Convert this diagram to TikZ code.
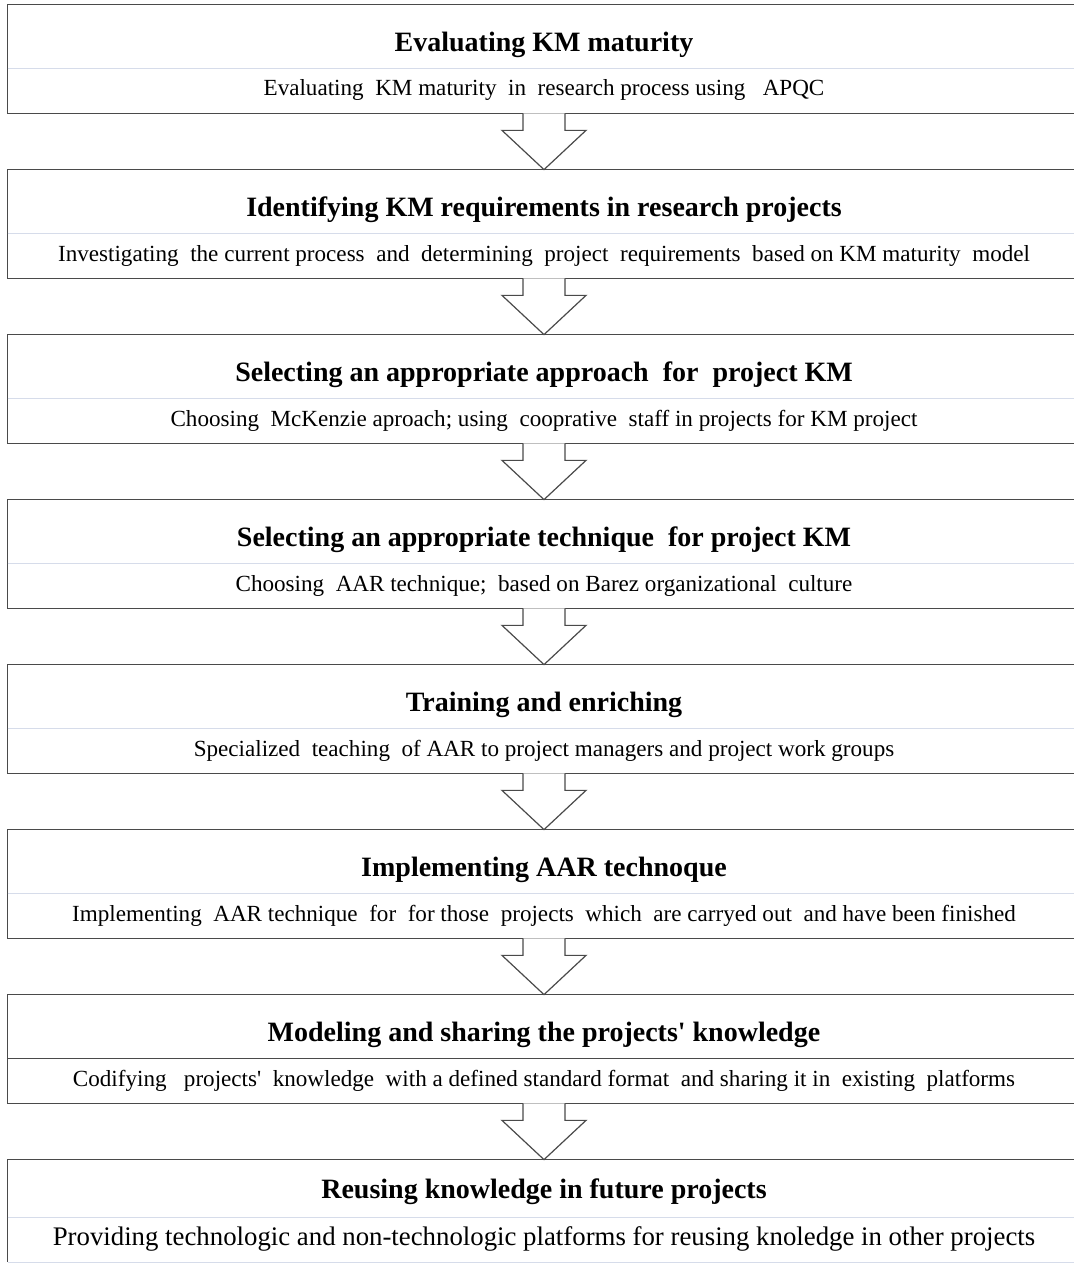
\documentclass[tikz,border=0pt]{standalone}
\usepackage{fontspec}
\setmainfont{Liberation Serif}
\usetikzlibrary{calc}
\definecolor{edgegray}{HTML}{4A4A4A}
\definecolor{divblue}{HTML}{D6DCEA}
\tikzset{every picture/.style={line width=0.75pt}}
\tikzset{
  steptitle/.style={minimum width=1072, minimum height=63, inner sep=0pt,
    text height=30, text depth=0, font=\fontsize{28}{32}\selectfont\bfseries},
  stepsub/.style={minimum width=1072, minimum height=45, inner sep=0pt,
    text height=16, text depth=5, font=\fontsize{23.1}{27}\selectfont},
  boxedge/.style={draw=edgegray, line width=1.6pt},
  boxdiv/.style={draw=divblue, line width=1.3pt},
  blockarrow/.style={draw=edgegray, fill=white, line width=1.2pt, line join=miter},
}

\begin{document}
\begin{tikzpicture}[x=1pt,y=1pt,yscale=-1,xscale=1]
\path[use as bounding box] (0,0) rectangle (1073,1268);

% Text Node
\node[steptitle] (t1) at (544,36.5) {Evaluating KM maturity};
\node[stepsub] (s1) at (544,90.5) {Evaluating\ \ KM maturity\ \ in\ \ research process using\ \ \ APQC};
% Text Node
\node[steptitle] (t2) at (544,201.5) {Identifying KM requirements in research projects};
\node[stepsub] (s2) at (544,255.5) {Investigating\ \ the current process\ \ and\ \ determining\ \ project\ \ requirements\ \ based on KM maturity\ \ model};
% Text Node
\node[steptitle] (t3) at (544,366.5) {Selecting an appropriate approach\ \ for\ \ project KM};
\node[stepsub] (s3) at (544,420.5) {Choosing\ \ McKenzie aproach; using\ \ cooprative\ \ staff in projects for KM project};
% Text Node
\node[steptitle] (t4) at (544,531.5) {Selecting an appropriate technique\ \ for project KM};
\node[stepsub] (s4) at (544,585.5) {Choosing\ \ AAR technique;\ \ based on Barez organizational\ \ culture};
% Text Node
\node[steptitle] (t5) at (544,696.5) {Training and enriching};
\node[stepsub] (s5) at (544,750.5) {Specialized\ \ teaching\ \ of AAR to project managers and project work groups};
% Text Node
\node[steptitle] (t6) at (544,861.5) {Implementing AAR technoque};
\node[stepsub] (s6) at (544,915.5) {Implementing\ \ AAR technique\ \ for\ \ for those\ \ projects\ \ which\ \ are carryed out\ \ and have been finished};
% Text Node
\node[steptitle] (t7) at (544,1026.5) {Modeling and sharing the projects\textquotesingle\ knowledge};
\node[stepsub] (s7) at (544,1080.5) {Codifying\ \ \ projects\textquotesingle\ \ knowledge\ \ with a defined standard format\ \ and sharing it in\ \ existing\ \ platforms};
% Text Node
\node[steptitle, minimum height=57, text height=20] (t8) at (544,1188.5) {Reusing knowledge in future projects};
\node[stepsub, font=\fontsize{26.8}{31}\selectfont] (s8) at (544,1239.5) {Providing technologic and non-technologic platforms for reusing knoledge in other projects};

% Box outlines
\draw[boxedge] (t1.north east) -- (t1.north west) -- (s1.south west) -- (s1.south east);
\draw[boxdiv] (t1.south west) -- (t1.south east);
\draw[boxedge] (t2.north east) -- (t2.north west) -- (s2.south west) -- (s2.south east);
\draw[boxdiv] (t2.south west) -- (t2.south east);
\draw[boxedge] (t3.north east) -- (t3.north west) -- (s3.south west) -- (s3.south east);
\draw[boxdiv] (t3.south west) -- (t3.south east);
\draw[boxedge] (t4.north east) -- (t4.north west) -- (s4.south west) -- (s4.south east);
\draw[boxdiv] (t4.south west) -- (t4.south east);
\draw[boxedge] (t5.north east) -- (t5.north west) -- (s5.south west) -- (s5.south east);
\draw[boxdiv] (t5.south west) -- (t5.south east);
\draw[boxedge] (t6.north east) -- (t6.north west) -- (s6.south west) -- (s6.south east);
\draw[boxdiv] (t6.south west) -- (t6.south east);
\draw[boxedge] (t7.north east) -- (t7.north west) -- (s7.south west) -- (s7.south east);
\draw[boxedge] (t7.south west) -- (t7.south east);
\draw[boxedge] (t8.north east) -- (t8.north west) -- (s8.south west);
\draw[boxdiv] (t8.south west) -- (t8.south east);
\draw[boxdiv] (s8.south west) -- (s8.south east);

% Connection
\draw[blockarrow] ($(s1.south)+(-21,0)$) -- ++(0,17) -- ++(-21,0) -- (t2.north) -- ($(s1.south)+(42,17)$) -- ++(-21,0) -- ++(0,-17);
% Connection
\draw[blockarrow] ($(s2.south)+(-21,0)$) -- ++(0,17) -- ++(-21,0) -- (t3.north) -- ($(s2.south)+(42,17)$) -- ++(-21,0) -- ++(0,-17);
% Connection
\draw[blockarrow] ($(s3.south)+(-21,0)$) -- ++(0,17) -- ++(-21,0) -- (t4.north) -- ($(s3.south)+(42,17)$) -- ++(-21,0) -- ++(0,-17);
% Connection
\draw[blockarrow] ($(s4.south)+(-21,0)$) -- ++(0,17) -- ++(-21,0) -- (t5.north) -- ($(s4.south)+(42,17)$) -- ++(-21,0) -- ++(0,-17);
% Connection
\draw[blockarrow] ($(s5.south)+(-21,0)$) -- ++(0,17) -- ++(-21,0) -- (t6.north) -- ($(s5.south)+(42,17)$) -- ++(-21,0) -- ++(0,-17);
% Connection
\draw[blockarrow] ($(s6.south)+(-21,0)$) -- ++(0,17) -- ++(-21,0) -- (t7.north) -- ($(s6.south)+(42,17)$) -- ++(-21,0) -- ++(0,-17);
% Connection
\draw[blockarrow] ($(s7.south)+(-21,0)$) -- ++(0,17) -- ++(-21,0) -- (t8.north) -- ($(s7.south)+(42,17)$) -- ++(-21,0) -- ++(0,-17);

\end{tikzpicture}
\end{document}
